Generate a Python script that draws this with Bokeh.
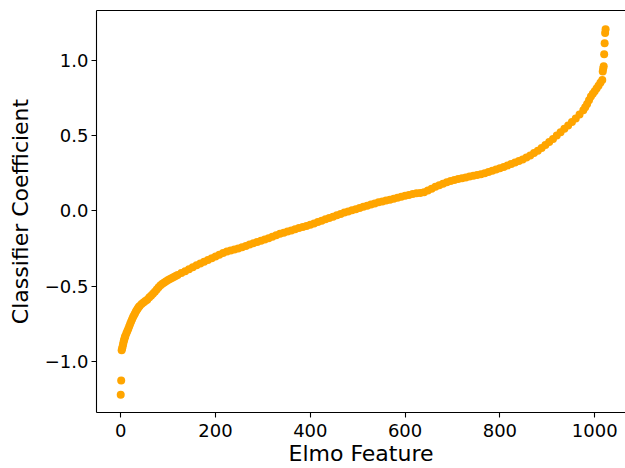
from bokeh.plotting import figure
from bokeh.models import LinearAxis, FixedTicker, Range1d
from bokeh.embed import file_html
from bokeh.resources import INLINE

# Feature indices (sorted by coefficient)
feature_idx = (list(range(0, 11)) + list(range(12, 41, 2)) + list(range(44, 117, 4))
               + list(range(120, 977, 8)) + list(range(980, 1017, 4)) + list(range(1017, 1024)))

# Classifier coefficients
coef = [
    # 0..10
    -1.220, -1.125, -0.925, -0.912, -0.900, -0.885, -0.870, -0.858, -0.846, -0.837, -0.828,
    # 12..40 step 2
    -0.812, -0.797, -0.782, -0.765, -0.748, -0.733, -0.718, -0.704, -0.692, -0.680,
    -0.668, -0.658, -0.648, -0.638, -0.630,
    # 44..116 step 4
    -0.617, -0.607, -0.598, -0.590, -0.575, -0.562, -0.550, -0.536, -0.521, -0.506,
    -0.493, -0.483, -0.475, -0.467, -0.459, -0.451, -0.445, -0.438, -0.432,
    # 120..976 step 8
    -0.425, -0.412, -0.400, -0.387, -0.374, -0.361, -0.349, -0.338,
    -0.326, -0.314, -0.302, -0.290, -0.279, -0.270, -0.263, -0.256,
    -0.249, -0.241, -0.232, -0.223, -0.214, -0.206, -0.198, -0.190,
    -0.181, -0.172, -0.162, -0.152, -0.144, -0.137, -0.129, -0.122,
    -0.114, -0.107, -0.100, -0.092, -0.083, -0.074, -0.065, -0.056,
    -0.047, -0.038, -0.029, -0.020, -0.011, -0.003, 0.005, 0.012,
    0.020, 0.028, 0.035, 0.043, 0.050, 0.057, 0.063, 0.069,
    0.075, 0.081, 0.088, 0.094, 0.100, 0.106, 0.113, 0.117,
    0.119, 0.124, 0.135, 0.148, 0.160, 0.170, 0.181, 0.191,
    0.199, 0.206, 0.212, 0.217, 0.222, 0.228, 0.233, 0.238,
    0.244, 0.250, 0.258, 0.266, 0.275, 0.283, 0.292, 0.302,
    0.312, 0.322, 0.332, 0.342, 0.354, 0.368, 0.385, 0.400,
    0.418, 0.437, 0.457, 0.478, 0.500, 0.522, 0.545, 0.567,
    0.590, 0.614, 0.640, 0.668,
    # 980..1016 step 4
    0.688, 0.710, 0.735, 0.760, 0.778, 0.795, 0.812, 0.830, 0.850, 0.868,
    # 1017..1023
    0.925, 0.945, 0.960, 1.040, 1.112, 1.180, 1.205,
]

x_ticks = [0, 200, 400, 600, 800, 1000]
x_tick_labels = ["0", "200", "400", "600", "800", "1000"]
y_ticks = [-1.0, -0.5, 0.0, 0.5, 1.0]
y_tick_labels = ["\u22121.0", "\u22120.5", "0.0", "0.5", "1.0"]

FONT = "DejaVu Sans"

p = figure(width=625, height=468,
           x_range=Range1d(-51.1, 1065.0), y_range=Range1d(-1.3375, 1.330),
           output_backend="svg", toolbar_location=None,
           min_border_left=96, min_border_right=0, min_border_top=10, min_border_bottom=56)
p.outline_line_color = None
p.grid.visible = False
p.background_fill_color = "white"
p.border_fill_color = "white"

p.scatter(feature_idx, coef, size=8, color="#FFA500", line_color=None)

def style_axis(ax):
    ax.axis_line_color = "black"
    ax.axis_line_width = 1.1
    ax.major_tick_line_color = "black"
    ax.major_tick_line_width = 1.1
    ax.major_tick_out = 5
    ax.major_tick_in = 0
    ax.minor_tick_line_color = None
    ax.major_label_text_font = FONT
    ax.major_label_text_font_size = "18px"
    ax.major_label_text_color = "black"
    ax.axis_label_text_font = FONT
    ax.axis_label_text_font_size = "22px"
    ax.axis_label_text_font_style = "normal"
    ax.axis_label_text_color = "black"

xa = p.xaxis[0]
style_axis(xa)
xa.ticker = FixedTicker(ticks=x_ticks)
xa.major_label_overrides = {t: l for t, l in zip(x_ticks, x_tick_labels)}
xa.axis_label = "Elmo Feature"
xa.major_label_standoff = 6
xa.axis_label_standoff = 1

ya = p.yaxis[0]
style_axis(ya)
ya.ticker = FixedTicker(ticks=y_ticks)
ya.major_label_overrides = {t: l for t, l in zip(y_ticks, y_tick_labels)}
ya.axis_label = "Classifier Coefficient"
ya.major_label_standoff = 3
ya.axis_label_standoff = 9

top = LinearAxis(ticker=FixedTicker(ticks=[]), major_label_text_font_size="0px",
                 major_tick_line_color=None, minor_tick_line_color=None,
                 major_tick_out=0, major_tick_in=0, major_label_standoff=0,
                 axis_line_color="black", axis_line_width=1.1)
p.add_layout(top, "above")

open("out.html", "w").write(file_html(p, INLINE))
